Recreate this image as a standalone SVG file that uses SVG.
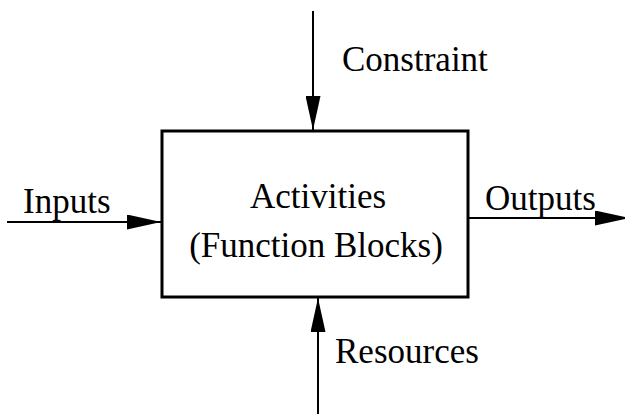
<svg xmlns="http://www.w3.org/2000/svg" width="625" height="414" viewBox="0 0 625 414">
<style>
text{font-family:"Liberation Serif","Times New Roman",serif;font-size:35px;fill:#000}
.ln{stroke:#000;stroke-width:2;fill:none}
.box{stroke:#000;stroke-width:3;fill:#fff}
</style>
<defs>
<marker id="ah" markerWidth="34" markerHeight="15" refX="34" refY="7.5" orient="auto" markerUnits="userSpaceOnUse">
<path d="M0,0 L34,7.5 L0,15 Z" fill="#000"/>
</marker>
</defs>
<rect width="625" height="414" fill="#fff"/>
<g id="activity">
<rect x="162" y="131" width="306" height="166" class="box"/>
<text x="318" y="208" text-anchor="middle">Activities</text>
<text x="316" y="257" text-anchor="middle">(Function Blocks)</text>
</g>
<g id="connectors">
<line x1="313" y1="11" x2="313" y2="130" class="ln" marker-end="url(#ah)"/>
<line x1="7" y1="222" x2="161" y2="222" class="ln" marker-end="url(#ah)"/>
<line x1="469" y1="218" x2="629" y2="218" class="ln" marker-end="url(#ah)"/>
<line x1="318" y1="414" x2="318" y2="298" class="ln" marker-end="url(#ah)"/>
</g>
<g id="labels">
<text x="342" y="71">Constraint</text>
<text x="23" y="213">Inputs</text>
<text x="485" y="210">Outputs</text>
<text x="335" y="363">Resources</text>
</g>
</svg>
